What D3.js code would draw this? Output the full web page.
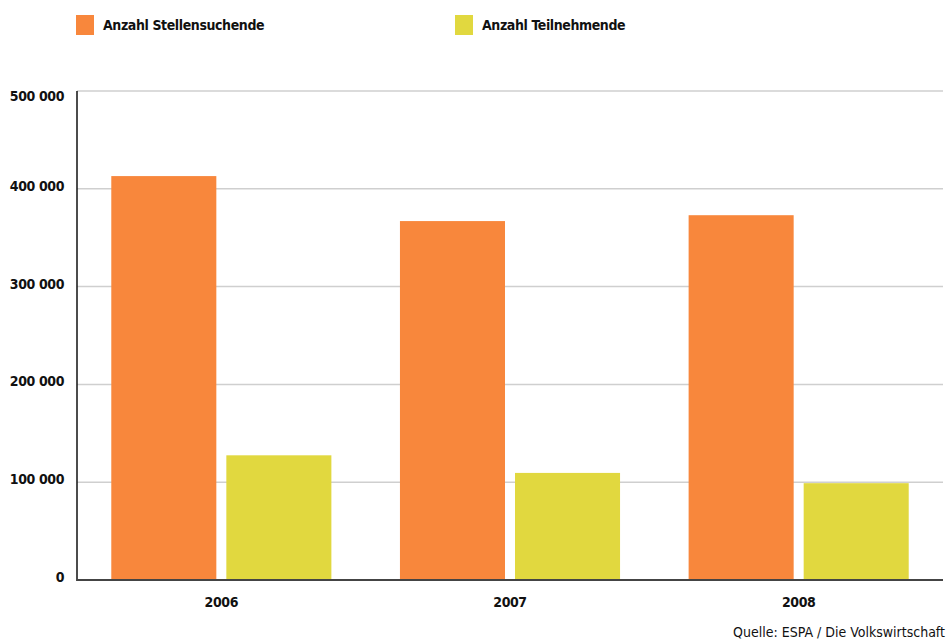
<!DOCTYPE html>
<html lang="de">
<head>
    <meta charset="UTF-8">
    <title>Stellensuchende und Teilnehmende</title>
    <script src="https://d3js.org/d3.v7.min.js"></script>
    <style>
        body {
            margin: 0;
            background: #fff;
        }
        svg text {
            font-family: "DejaVu Sans Condensed", "DejaVu Sans", sans-serif;
            fill: #111;
        }
        .bold {
            font-weight: bold;
            letter-spacing: -0.4px;
        }
    </style>
</head>
<body>
    <svg id="chart" width="946" height="642"></svg>

    <script>
        // data
        const years = ["2006", "2007", "2008"];
        const seriesNames = ["Anzahl Stellensuchende", "Anzahl Teilnehmende"];
        const stellensuchende = [413000, 367000, 373000];
        const teilnehmende = [127500, 109500, 99000];
        const yTicks = [0, 100000, 200000, 300000, 400000, 500000];
        const colors = ["#f8873c", "#e1d83f"];

        const svg = d3.select("#chart");
        const plotLeft = 77, plotRight = 943, plotTop = 91, plotBottom = 580;

        const x0 = d3.scaleBand().domain(years).range([plotLeft, plotRight]);
        const x1 = d3.scaleBand().domain(seriesNames)
            .range([0, x0.bandwidth()])
            .paddingInner(0.087)
            .paddingOuter(0.298);
        const y = d3.scaleLinear().domain([0, 500000]).range([plotBottom, plotTop]);

        const fmt = v => d3.format(",")(v).replace(/,/g, " ");

        // gridlines
        svg.append("g")
            .selectAll("line")
            .data(yTicks.slice(1))
            .join("line")
            .attr("x1", plotLeft)
            .attr("x2", plotRight)
            .attr("y1", d => y(d))
            .attr("y2", d => y(d))
            .attr("stroke", "#cfcfcf")
            .attr("stroke-width", 1.5);

        // y labels
        svg.append("g")
            .selectAll("text")
            .data(yTicks)
            .join("text")
            .attr("class", "bold")
            .attr("x", 64)
            .attr("y", d => y(d) + (d === 500000 ? 10 : 2))
            .attr("text-anchor", "end")
            .attr("font-size", 14)
            .text(fmt);

        // bars
        const rows = years.map((yr, i) => ({
            year: yr,
            values: [stellensuchende[i], teilnehmende[i]]
        }));

        const groups = svg.append("g")
            .selectAll("g")
            .data(rows)
            .join("g")
            .attr("transform", d => `translate(${x0(d.year)},0)`);

        groups.selectAll("rect")
            .data(d => d.values.map((v, j) => ({ name: seriesNames[j], value: v, j })))
            .join("rect")
            .attr("x", d => x1(d.name))
            .attr("width", x1.bandwidth())
            .attr("y", d => y(d.value))
            .attr("height", d => plotBottom - y(d.value))
            .attr("fill", d => colors[d.j]);

        // axes lines
        svg.append("line")
            .attr("x1", plotLeft).attr("x2", plotLeft)
            .attr("y1", plotTop).attr("y2", plotBottom + 1)
            .attr("stroke", "#111").attr("stroke-width", 1.5);
        svg.append("line")
            .attr("x1", plotLeft).attr("x2", plotRight)
            .attr("y1", plotBottom).attr("y2", plotBottom)
            .attr("stroke", "#444").attr("stroke-width", 2);

        // x labels
        svg.append("g")
            .selectAll("text")
            .data(years)
            .join("text")
            .attr("class", "bold")
            .attr("x", d => x0(d) + x0.bandwidth() / 2)
            .attr("y", 607)
            .attr("text-anchor", "middle")
            .attr("font-size", 14)
            .text(d => d);

        // legend
        const legendX = [76, 455];
        const legend = svg.append("g")
            .selectAll("g")
            .data(seriesNames)
            .join("g")
            .attr("transform", (d, i) => `translate(${legendX[i]},15)`);
        legend.append("rect")
            .attr("width", 18).attr("height", 20)
            .attr("fill", (d, i) => colors[i]);
        legend.append("text")
            .attr("class", "bold")
            .attr("x", 27)
            .attr("y", 15)
            .attr("font-size", 14)
            .text(d => d);

        // source
        svg.append("text")
            .attr("x", 945)
            .attr("y", 637)
            .attr("text-anchor", "end")
            .attr("font-size", 14)
            .text("Quelle: ESPA / Die Volkswirtschaft");
    </script>
</body>
</html>
